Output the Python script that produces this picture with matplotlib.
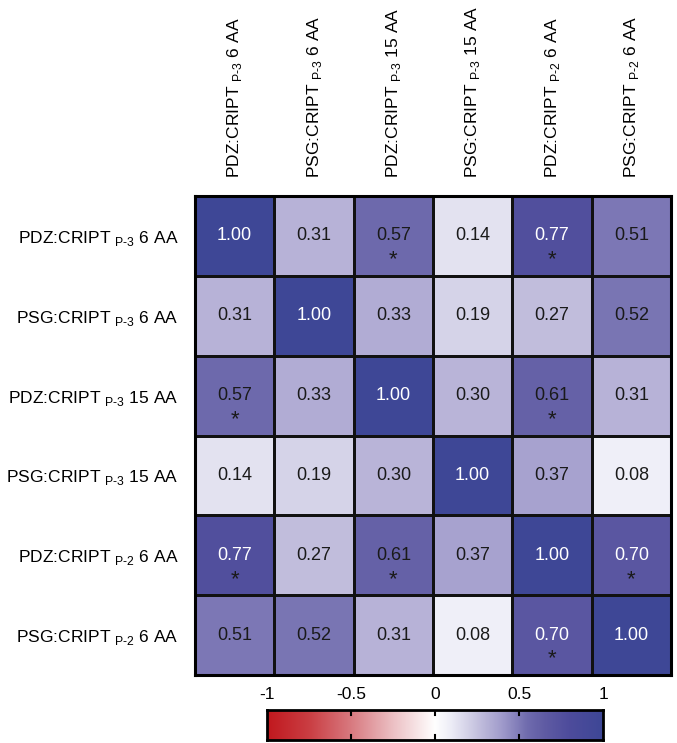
import numpy as np
import matplotlib
matplotlib.use("Agg")
import matplotlib.pyplot as plt
from matplotlib.colors import LinearSegmentedColormap

plt.rcParams['font.family'] = ['Liberation Sans', 'DejaVu Sans']
plt.rcParams['mathtext.fontset'] = 'custom'
plt.rcParams['mathtext.rm'] = 'Liberation Sans'

# data
labels = [
    "PDZ:CRIPT $_{\\mathrm{P\u20103}}$ 6 AA",
    "PSG:CRIPT $_{\\mathrm{P\u20103}}$ 6 AA",
    "PDZ:CRIPT $_{\\mathrm{P\u20103}}$ 15 AA",
    "PSG:CRIPT $_{\\mathrm{P\u20103}}$ 15 AA",
    "PDZ:CRIPT $_{\\mathrm{P\u20102}}$ 6 AA",
    "PSG:CRIPT $_{\\mathrm{P\u20102}}$ 6 AA",
]
corr = np.array([
    [1.00, 0.31, 0.57, 0.14, 0.77, 0.51],
    [0.31, 1.00, 0.33, 0.19, 0.27, 0.52],
    [0.57, 0.33, 1.00, 0.30, 0.61, 0.31],
    [0.14, 0.19, 0.30, 1.00, 0.37, 0.08],
    [0.77, 0.27, 0.61, 0.37, 1.00, 0.70],
    [0.51, 0.52, 0.31, 0.08, 0.70, 1.00],
])
signif = [(0, 2), (0, 4), (2, 0), (2, 4), (4, 0), (4, 2), (4, 5), (5, 4)]

# red - white - blue colormap
nodes = [
    (-1.00, (193, 24, 30)),
    (-0.75, (202, 62, 67)),
    (-0.50, (216, 122, 128)),
    (-0.25, (236, 192, 196)),
    (0.00, (255, 255, 255)),
    (0.10, (236, 236, 246)),
    (0.30, (185, 181, 216)),
    (0.40, (160, 155, 203)),
    (0.55, (112, 108, 174)),
    (0.65, (96, 92, 164)),
    (0.80, (78, 76, 156)),
    (1.00, (62, 71, 150)),
]
cmap = LinearSegmentedColormap.from_list(
    "rwb", [((v + 1) / 2, tuple(c / 255 for c in col)) for v, col in nodes])

fig = plt.figure(figsize=(6.77, 7.43), dpi=100)
W, H = 677, 743
ax = fig.add_axes([195 / W, 1 - 675 / H, 476 / W, 479 / H])

n = len(labels)
ax.pcolormesh(np.arange(n + 1), np.arange(n + 1), corr, cmap=cmap,
              vmin=-1, vmax=1, edgecolors='#111111', linewidth=0.8)
ax.set_xlim(0, n)
ax.set_ylim(n, 0)
for s in ax.spines.values():
    s.set_linewidth(2.2)

for i in range(n):
    for j in range(n):
        v = corr[i, j]
        ax.text(j + 0.5, i + 0.5, f"{v:.2f}", ha='center', va='center',
                fontsize=13, color='white' if v >= 0.7 else '#1a1a1a')
for i, j in signif:
    ax.text(j + 0.5, i + 0.8, "*", ha='center', va='center',
            fontsize=16, color='#1a1a1a')

ax.set_xticks(np.arange(n) + 0.5)
ax.set_yticks(np.arange(n) + 0.5)
ax.set_xticklabels(labels, rotation=90, fontsize=12.5)
ax.set_yticklabels(labels, fontsize=12.5)
ax.xaxis.tick_top()
ax.tick_params(length=0)
ax.tick_params(axis='x', pad=13)
ax.tick_params(axis='y', pad=12)

# colorbar
cax = fig.add_axes([267 / W, 1 - 740 / H, 336 / W, 30 / H])
grad = np.linspace(-1, 1, 256).reshape(1, -1)
cax.imshow(grad, aspect='auto', cmap=cmap, vmin=-1, vmax=1,
           extent=[-1, 1, 0, 1])
cax.set_xlim(-1, 1)
cax.set_yticks([])
cax.set_xticks([-1, -0.5, 0, 0.5, 1])
cax.set_xticklabels(["-1", "-0.5", "0", "0.5", "1"], fontsize=12.5)
cax.xaxis.tick_top()
cax.tick_params(axis='x', length=0, pad=6)
for s in cax.spines.values():
    s.set_linewidth(2)
for t in [-0.5, 0, 0.5]:
    cax.plot([t, t], [0, 0.18], color='k', lw=1.5)
    cax.plot([t, t], [0.82, 1], color='k', lw=1.5)

fig.savefig("out.png", dpi=100)
